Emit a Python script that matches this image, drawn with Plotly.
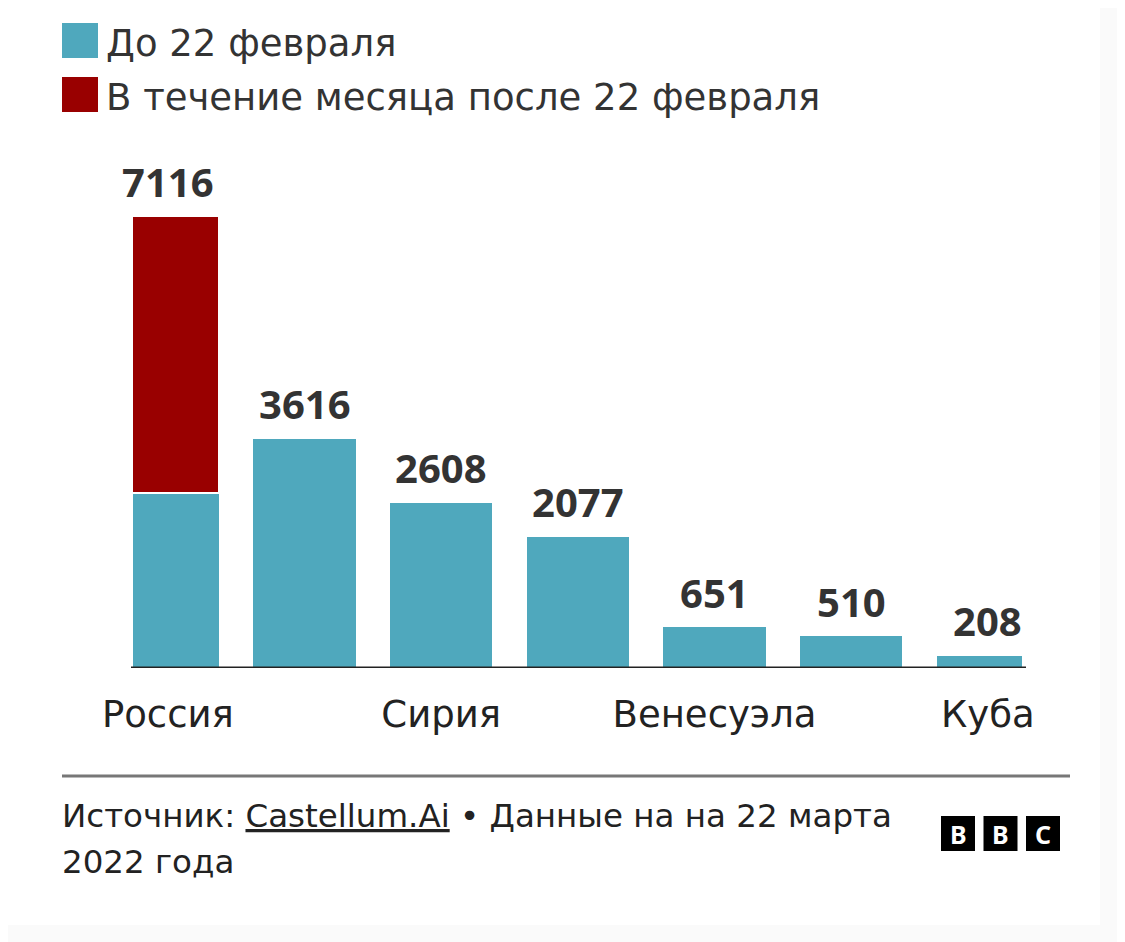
import plotly.graph_objects as go

countries = ["Россия", "Иран", "Сирия", "Северная Корея", "Венесуэла", "Мьянма", "Куба"]
tick_labels = ["Россия", "", "Сирия", "", "Венесуэла", "", "Куба"]
before_feb22 = [2754, 3616, 2608, 2077, 651, 510, 208]
after_feb22 = [4362, 0, 0, 0, 0, 0, 0]
totals = [b + a for b, a in zip(before_feb22, after_feb22)]
series_names = ["До 22 февраля", "В течение месяца после 22 февраля"]
colors = ["#4fa8bd", "#990000"]
source_line1 = "Источник: <u>Castellum.Ai</u> • Данные на на 22 марта"
source_line2 = "2022 года"
logo_letters = ["B", "B", "C"]

FONT = "DejaVu Sans"
BOLD_FONT = "Noto Sans"
xs = list(range(len(countries)))

# page offset (browser body margin)
OFF = 8
W, H = 1125 - OFF, 942 - OFF
# plot area in page coords: x 133..1022, y 150..668
PX0, PX1, PY0, PY1 = 133, 1022, 150, 668
L, R, T, B = PX0 - OFF, W - (PX1 - OFF), PY0 - OFF, H - (PY1 - OFF)
pw = W - L - R
ph = H - T - B


def px(x):  # page x -> paper
    return (x - PX0) / pw


def py(y):  # page y -> paper
    return (PY1 - y) / ph


fig = go.Figure()
fig.add_trace(go.Bar(x=xs, y=before_feb22, name=series_names[0],
                     marker=dict(color=colors[0], line=dict(width=0)), width=0.75, hoverinfo="skip"))
fig.add_trace(go.Bar(x=xs, y=after_feb22, name=series_names[1],
                     marker=dict(color=colors[1], line=dict(color="white", width=1.5)), width=0.75, hoverinfo="skip"))

fig.update_layout(
    width=W, height=H, barmode="stack", showlegend=False,
    margin=dict(l=L, r=R, t=T, b=B, pad=0),
    paper_bgcolor="white", plot_bgcolor="white",
    xaxis=dict(range=[-0.255, 6.25], tickmode="array", tickvals=xs, ticktext=tick_labels,
               showgrid=False, zeroline=False, showline=False, ticks="outside", ticklen=14,
               tickcolor="rgba(0,0,0,0)", tickfont=dict(family=FONT, size=37, color="#222222")),
    yaxis=dict(range=[0, (PY1 - PY0) / (452 / 7116)], visible=False, showgrid=False, zeroline=False),
)

# value labels
for x, t in zip(xs, totals):
    fig.add_annotation(x=x, y=t, xref="x", yref="y", text=str(t), showarrow=False,
                       xanchor="center", yanchor="bottom", yshift=5,
                       font=dict(family=BOLD_FONT, size=40, color="#333333", weight="bold"))

# baseline
fig.add_shape(type="line", xref="paper", yref="y", x0=px(131), x1=px(1026), y0=0, y1=0,
              line=dict(color="#222222", width=3), layer="above")

# legend (manual)
leg_sq = [(23, 58), (77, 112)]
leg_txt_y = [43, 97]
for i, (name, c) in enumerate(zip(series_names, colors)):
    y0, y1 = leg_sq[i]
    fig.add_shape(type="rect", xref="paper", yref="paper", x0=px(62), x1=px(98), y0=py(y1), y1=py(y0),
                  fillcolor=c, line=dict(width=0))
    fig.add_annotation(xref="paper", yref="paper", x=px(104), y=py(leg_txt_y[i]), text=name, showarrow=False,
                       xanchor="left", yanchor="middle", font=dict(family=FONT, size=37, color="#333333"))

# separator line
fig.add_shape(type="line", xref="paper", yref="paper", x0=px(62), x1=px(1070), y0=py(776), y1=py(776),
              line=dict(color="#777777", width=3))

# source text
fig.add_annotation(xref="paper", yref="paper", x=px(60), y=py(816), text=source_line1, showarrow=False,
                   xanchor="left", yanchor="middle", align="left",
                   font=dict(family=FONT, size=32.5, color="#222222"))
fig.add_annotation(xref="paper", yref="paper", x=px(60), y=py(862), text=source_line2, showarrow=False,
                   xanchor="left", yanchor="middle", align="left",
                   font=dict(family=FONT, size=32.5, color="#222222"))

# BBC logo
for i, letter in enumerate(logo_letters):
    x0 = 941 + i * 42.5
    fig.add_shape(type="rect", xref="paper", yref="paper", x0=px(x0), x1=px(x0 + 34), y0=py(851), y1=py(816),
                  fillcolor="#000000", line=dict(width=0))
    fig.add_annotation(xref="paper", yref="paper", x=px(x0 + 17), y=py(834), text=letter, showarrow=False,
                       xanchor="center", yanchor="middle",
                       font=dict(family=BOLD_FONT, size=25, color="white", weight="bold"))

# faint page border
fig.add_shape(type="rect", xref="paper", yref="paper", x0=px(1100), x1=px(1125), y0=py(942), y1=py(0),
              fillcolor="#fafafa", line=dict(width=0), layer="below")
fig.add_shape(type="rect", xref="paper", yref="paper", x0=px(0), x1=px(1100), y0=py(942), y1=py(925),
              fillcolor="#fafafa", line=dict(width=0), layer="below")

fig.write_html("out.html")
